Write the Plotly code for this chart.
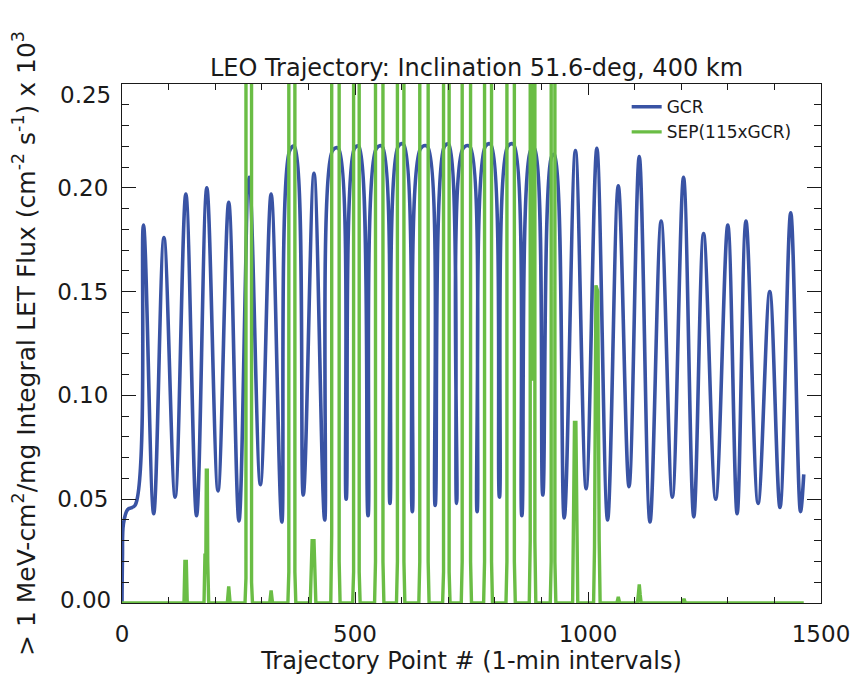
import plotly.graph_objects as go

# ---------------- data ----------------
# GCR integral LET flux (x 10^3): start-up, then alternating peaks / troughs
# (flat-topped maxima where SEP penetrate are given by two points)
gcr_x = [0, 1, 3, 12, 28,
         46, 68, 90, 114, 137, 160, 182, 206, 229, 251, 273, 297, 320, 343,
         360, 370, 389, 412, 435, 452, 464, 481, 499, 508, 528, 546, 558, 575,
         593, 604, 623, 641, 655, 672, 692, 701, 718, 732, 746, 762, 780, 791,
         810, 828, 840, 858, 877, 885, 903, 922, 928, 949, 973, 996,
         1019, 1042, 1065, 1088, 1110, 1133, 1157, 1181, 1205, 1227, 1248, 1274,
         1300, 1320, 1339, 1365, 1390, 1412, 1435, 1456, 1463]
gcr_y = [0.0, 0.022, 0.038, 0.045, 0.047,
         0.182, 0.043, 0.176, 0.051, 0.197, 0.042, 0.200, 0.054, 0.193, 0.0395, 0.205, 0.057, 0.197, 0.039,
         0.218, 0.220, 0.052, 0.207, 0.040, 0.218, 0.219, 0.050, 0.219, 0.220, 0.042, 0.219, 0.220, 0.048,
         0.220, 0.221, 0.044, 0.219, 0.220, 0.047, 0.220, 0.221, 0.048, 0.219, 0.220, 0.044, 0.220, 0.221,
         0.051, 0.220, 0.221, 0.042, 0.218, 0.219, 0.052, 0.215, 0.216, 0.041, 0.218, 0.055,
         0.219, 0.040, 0.201, 0.056, 0.215, 0.039, 0.184, 0.051, 0.205, 0.0415, 0.178, 0.050,
         0.182, 0.043, 0.184, 0.048, 0.150, 0.046, 0.188, 0.044, 0.062]

# SEP (115 x GCR) flux: zero except near the high-latitude passes
sep_x = [0,
         133, 135, 138, 140,
         176, 178, 180, 181, 183, 184, 186,
         226, 229, 232,
         264, 266, 269, 276, 278, 280,
         317, 320, 323,
         356, 358, 359, 370, 371, 373,
         404, 406, 408, 412, 414, 416,
         448, 450, 451, 465, 466, 468,
         495, 497, 498, 508, 509, 511,
         542, 544, 545, 559, 560, 562,
         589, 591, 592, 604, 605, 607,
         637, 639, 640, 656, 657, 659,
         688, 690, 691, 701, 702, 704,
         728, 730, 731, 747, 748, 750,
         776, 778, 779, 792, 793, 795,
         824, 826, 827, 841, 842, 844,
         874, 876, 877, 880, 881, 882, 885, 886, 888,
         919, 921, 922, 928, 929, 931,
         967, 969, 971, 974, 976, 978,
         1012, 1014, 1017, 1021, 1024, 1026,
         1062, 1065, 1068,
         1106, 1108, 1110, 1112, 1114,
         1203, 1206, 1209,
         1463]
sep_y = [0,
         0, 0.020, 0.020, 0,
         0, 0.023, 0.023, 0.064, 0.064, 0.020, 0,
         0, 0.008, 0,
         0, 0.012, 25, 25, 0.010, 0,
         0, 0.006, 0,
         0, 0.015, 25, 25, 0.015, 0,
         0, 0.017, 0.030, 0.030, 0.015, 0,
         0, 0.033, 25, 25, 0.020, 0,
         0, 0.015, 25, 25, 0.015, 0,
         0, 0.020, 25, 25, 0.020, 0,
         0, 0.020, 25, 25, 0.020, 0,
         0, 0.020, 25, 25, 0.020, 0,
         0, 0.015, 25, 25, 0.015, 0,
         0, 0.020, 25, 25, 0.020, 0,
         0, 0.020, 25, 25, 0.020, 0,
         0, 0.020, 25, 25, 0.020, 0,
         0, 0.030, 25, 25, 0.107, 25, 25, 0.030, 0,
         0, 0.020, 25, 25, 0.020, 0,
         0, 0.043, 0.087, 0.087, 0.022, 0,
         0, 0.027, 0.153, 0.150, 0.030, 0,
         0, 0.003, 0,
         0, 0.004, 0.009, 0.004, 0,
         0, 0.002, 0,
         0]

x_tickvals = [0, 500, 1000, 1500]
y_tickvals = [0.05, 0.10, 0.15, 0.20]
y_ticktext = ["0.05", "0.10", "0.15", "0.20"]
y_end_labels = [(0.0, "0.00"), (0.25, "0.25")]

BLUE = "#3953A4"
GREEN = "#6ABD45"
INK = "#1a1a1a"
FONT = "DejaVu Sans ExtraLight, DejaVu Sans"

fig = go.Figure()
fig.add_trace(go.Scatter(x=gcr_x, y=gcr_y, mode="lines", name="GCR",
                         line=dict(color=BLUE, width=3.6, shape="spline", smoothing=1.0)))
fig.add_trace(go.Scatter(x=sep_x, y=sep_y, mode="lines", name="SEP(115xGCR)",
                         line=dict(color=GREEN, width=3.4)))

fig.update_layout(
    width=862, height=679,
    margin=dict(l=122, r=31, t=84, b=71),
    paper_bgcolor="white", plot_bgcolor="white",
    font=dict(family=FONT, size=23, color=INK),
    title=dict(text="LEO Trajectory: Inclination 51.6-deg, 400 km",
               x=(122 + 831) / 2 / 862, xanchor="center",
               yref="container", y=1 - 68 / 679, yanchor="middle",
               font=dict(family=FONT, size=24, color=INK)),
    showlegend=True,
    legend=dict(x=0.722, y=0.99, xanchor="left", yanchor="top",
                bgcolor="rgba(0,0,0,0)", font=dict(family=FONT, size=17, color=INK),
                tracegroupgap=0, itemwidth=30),
)

fig.update_xaxes(
    range=[0, 1500], tickmode="array", tickvals=x_tickvals,
    ticks="inside", ticklen=11, tickwidth=1, tickcolor=INK,
    minor=dict(dtick=100, tick0=0, ticks="inside", ticklen=6, tickwidth=1, tickcolor=INK),
    showline=True, linecolor=INK, linewidth=1, mirror="ticks",
    showgrid=False, zeroline=False, ticklabelstandoff=10,
    title=dict(text="Trajectory Point # (1-min intervals)", standoff=4,
               font=dict(family=FONT, size=24, color=INK)),
)
fig.update_yaxes(
    range=[0, 0.25], tickmode="array", tickvals=y_tickvals, ticktext=y_ticktext,
    ticks="inside", ticklen=14, tickwidth=1, tickcolor=INK,
    minor=dict(dtick=0.01, tick0=0, ticks="inside", ticklen=7, tickwidth=1, tickcolor=INK),
    showline=True, linecolor=INK, linewidth=1, mirror="ticks",
    showgrid=False, zeroline=False, ticklabelstandoff=8,
    title=dict(text="> 1 MeV-cm<sup>2</sup>/mg Integral LET Flux (cm<sup>-2</sup> s<sup>-1</sup>) x 10<sup>3</sup>",
               standoff=14, font=dict(family=FONT, size=25, color=INK)),
)

# end labels of the y axis sit inside the axis span, as in the reference
for val, txt in y_end_labels:
    fig.add_annotation(text=txt, xref="paper", x=0, xanchor="right", xshift=-9,
                       yref="y", y=val, yanchor="bottom" if val == 0 else "top",
                       yshift=-12 if val == 0 else 4, showarrow=False,
                       font=dict(family=FONT, size=23, color=INK))

fig.write_html("out.html")
